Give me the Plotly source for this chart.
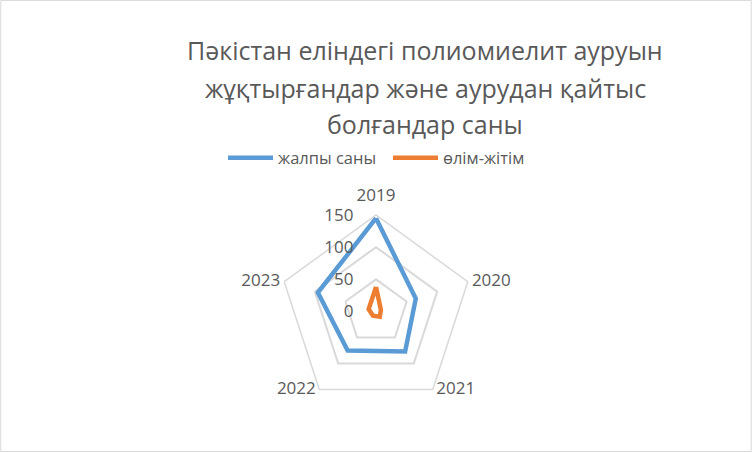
import plotly.graph_objects as go

years = ["2019", "2020", "2021", "2022", "2023"]
total_cases = [145, 65, 77, 75, 95]
deaths = [38, 8, 10, 8, 12]
series_names = ["жалпы саны", "өлім-жітім"]
title_lines = ["Пәкістан еліндегі полиомиелит ауруын",
               "жұқтырғандар және аурудан қайтыс",
               "болғандар саны"]
radial_ticks = [0, 50, 100, 150]
r_max = 150
year_label_pos = ["top center", "middle right", "middle right", "middle left", "middle left"]
# invisible anchor markers: their size sets how far each category label sits from its vertex
year_label_gap = [14, 5, 4, 4, 5]

FONT = "Open Sans"
GRAY = "#595959"
FS = "\u2007"  # figure space (digit width)
tick_text = [FS * (3 - len(str(v))) + str(v) + FS * 2 for v in radial_ticks]

fig = go.Figure()
fig.add_trace(go.Scatterpolar(
    r=total_cases + [total_cases[0]], theta=years + [years[0]],
    mode="lines", name=series_names[0],
    line=dict(color="#5B9BD5", width=4.5)))
fig.add_trace(go.Scatterpolar(
    r=deaths + [deaths[0]], theta=years + [years[0]],
    mode="lines", name=series_names[1],
    line=dict(color="#ED7D31", width=4.5)))
fig.add_trace(go.Scatterpolar(
    r=[r_max] * len(years), theta=years, mode="markers+text", text=years,
    textposition=year_label_pos, cliponaxis=False, showlegend=False,
    hoverinfo="skip",
    marker=dict(size=year_label_gap, color="rgba(0,0,0,0)", opacity=0,
                line=dict(width=0, color="rgba(0,0,0,0)")),
    textfont=dict(size=17, color=GRAY, family=FONT)))

W, H = 752, 452
cx, cy, R = 376, 311.5, 96.5
fig.update_layout(
    width=W, height=H,
    margin=dict(l=0, r=0, t=0, b=0),
    paper_bgcolor="white",
    font=dict(family=FONT, color=GRAY),
    showlegend=True,
    legend=dict(orientation="h", x=0.5 + 12 / W, xanchor="center",
                y=(H - 158) / H, yanchor="middle",
                itemwidth=45, entrywidth=105, entrywidthmode="pixels",
                font=dict(size=16.5, color=GRAY, family=FONT),
                bgcolor="rgba(0,0,0,0)"),
    polar=dict(
        domain=dict(x=[(cx - R) / W, (cx + R) / W],
                    y=[(H - cy - R) / H, (H - cy + R) / H]),
        gridshape="linear",
        bgcolor="white",
        radialaxis=dict(range=[0, r_max], tickvals=radial_ticks, ticktext=tick_text,
                        angle=90, tickangle=90, side="counterclockwise",
                        showline=False, ticks="",
                        gridcolor="#d9d9d9", gridwidth=1.5,
                        tickfont=dict(size=17, color=GRAY, family=FONT)),
        angularaxis=dict(rotation=90, direction="clockwise",
                         showgrid=False, showline=True, showticklabels=False,
                         linecolor="#d9d9d9", linewidth=1.5, ticks=""),
    ),
)

for txt, yy in zip(title_lines, [50, 88, 124]):
    fig.add_annotation(text=txt, x=425 / W, y=(H - yy) / H, xref="paper", yref="paper",
                       xanchor="center", yanchor="middle", showarrow=False,
                       font=dict(size=25, color=GRAY, family=FONT))

fig.add_shape(type="rect", xref="paper", yref="paper", x0=0.001, y0=0.001,
              x1=0.999, y1=0.999, line=dict(color="#d9d9d9", width=1))

fig.write_html("out.html", config={"displayModeBar": False},
               post_script="document.body.style.margin='0';document.body.style.overflow='hidden';")
